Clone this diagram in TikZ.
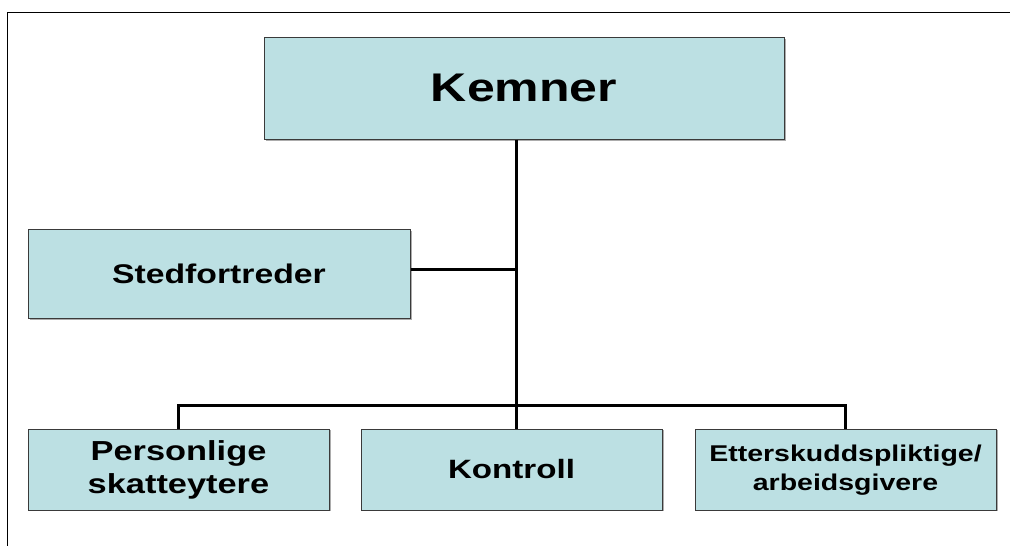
\documentclass[tikz,border=0pt]{standalone}
\usepackage{fontspec}
\newfontfamily\boxfont[FakeStretch=1.25]{Liberation Sans}
\definecolor{boxfill}{HTML}{BCE0E3}
\definecolor{boxedge}{HTML}{3A3A3A}
\begin{document}
\begin{tikzpicture}[x=1pt,y=-1pt,
  unit/.style={draw=boxedge, line width=1pt, fill=boxfill, inner sep=0pt,
    align=center, font=\boxfont\bfseries},
  shade/.style={fill=gray!65},
  link/.style={line width=3pt, black},
  frame/.style={line width=1.5pt, black}]
\useasboundingbox (0,0) rectangle (1010,546);
% page frame
\draw[frame] (7.5,546) -- (7.5,12.5) -- (1012,12.5);
% drop shadows behind the units
\fill[shade] (265.5,38.5) rectangle (785.5,140.5);
\fill[shade] (29.5,230.5) rectangle (411.5,319.5);
\fill[shade] (29.5,429.5) rectangle (330.5,510.5);
\fill[shade] (362.5,429.5) rectangle (663.5,510.5);
\fill[shade] (696.5,429.5) rectangle (997.5,510.5);
% units
\node[unit, minimum width=520pt, minimum height=102pt, font=\boxfont\bfseries\fontsize{40}{48}\selectfont]
  (kem) at (524,88) {Kemner};
\node[unit, minimum width=382pt, minimum height=89pt, font=\boxfont\bfseries\fontsize{27}{32}\selectfont]
  (sted) at (219,273.5) {Stedfortreder};
\node[unit, minimum width=301pt, minimum height=81pt, font=\boxfont\bfseries\fontsize{27.5}{33}\selectfont]
  (pers) at (178.5,470) {Personlige\\skatteytere};
\node[unit, minimum width=301pt, minimum height=81pt, font=\boxfont\bfseries\fontsize{26.5}{33}\selectfont]
  (kon) at (511.5,469.5) {Kontroll};
\node[unit, minimum width=301pt, minimum height=81pt, font=\boxfont\bfseries\fontsize{22.8}{29}\selectfont]
  (ett) at (845.5,470) {Etterskuddspliktige/\\arbeidsgivere};
% connectors
\coordinate (jt) at (516,405);
\draw[link] (jt |- kem.south) -- (jt);
\draw[link] ([yshift=4pt]sted.east) -- ([yshift=4pt]sted.east -| jt);
\draw[link] (pers.north) |- (jt) -| (ett.north);
\draw[link] (jt) -- (jt |- kon.north);
\end{tikzpicture}
\end{document}
